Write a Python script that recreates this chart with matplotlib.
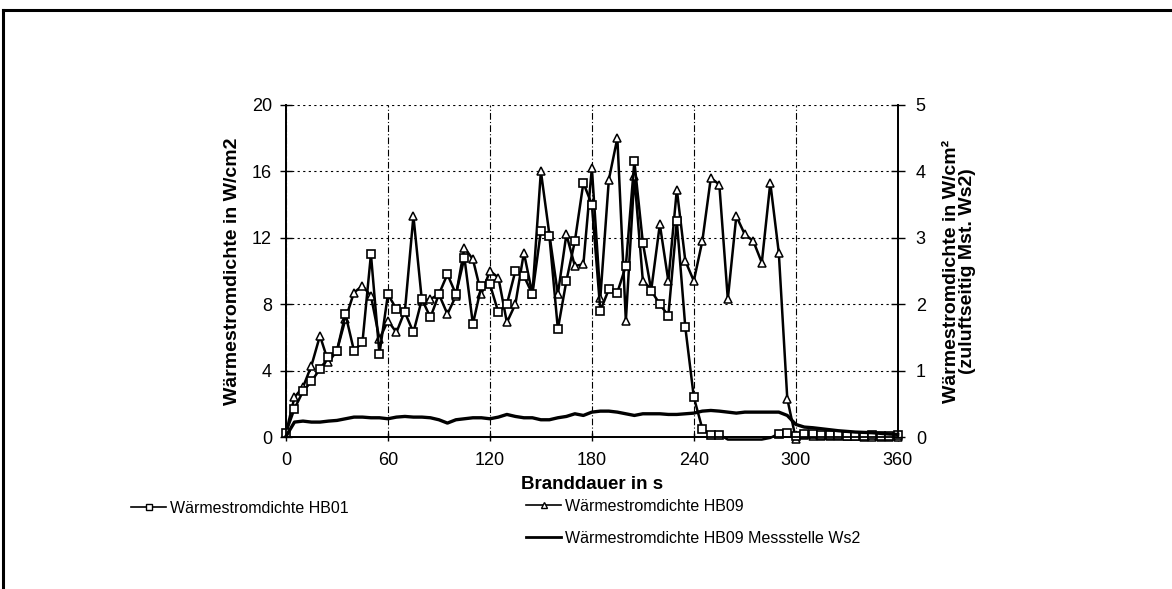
import numpy as np
import matplotlib.pyplot as plt
from matplotlib.lines import Line2D

plt.rcParams['font.family'] = ['Liberation Sans', 'DejaVu Sans']

# Zeitachse: Messwerte alle 5 s
zeit = np.arange(0, 361, 5)

# Wärmestromdichte HB01 in W/cm2 (linke Achse)
hb01 = [0.25, 1.7, 2.75, 3.35, 4.1, 4.8, 5.2, 7.4, 5.2, 5.7,
        11.0, 5.0, 8.6, 7.7, 7.5, 6.3, 8.3, 7.2, 8.6, 9.8,
        8.6, 10.8, 6.8, 9.1, 9.2, 7.5, 8.0, 10.0, 9.7, 8.6,
        12.4, 12.1, 6.5, 9.4, 11.8, 15.3, 14.0, 7.6, 8.9, 8.7,
        10.3, 16.6, 11.7, 8.8, 8.0, 7.3, 13.0, 6.6, 2.4, 0.5,
        0.15, 0.15, -0.15, -0.15, -0.15, -0.15, -0.15, -0.05, 0.2, 0.25,
        0.05, 0.2, 0.2, 0.15, 0.12, 0.1, 0.08, 0.05, 0.05, 0.1,
        0.05, 0.08, 0.1]

# Wärmestromdichte HB09 in W/cm2 (linke Achse)
hb09 = [0.25, 2.4, 3.0, 4.3, 6.1, 4.5, 5.2, 7.1, 8.7, 9.1,
        8.5, 5.9, 7.0, 6.3, 7.6, 13.3, 8.2, 8.3, 8.6, 7.4,
        8.5, 11.4, 10.7, 8.6, 10.0, 9.6, 6.9, 8.0, 11.1, 8.6,
        16.0, 12.2, 8.6, 12.2, 10.3, 10.4, 16.2, 8.4, 15.5, 18.0,
        7.0, 15.7, 9.4, 8.9, 12.8, 9.4, 14.9, 10.6, 9.4, 11.8,
        15.6, 15.2, 8.3, 13.3, 12.2, 11.8, 10.5, 15.3, 11.1, 2.3,
        -0.1, 0.1, 0.08, 0.06, 0.05, 0.05, 0.04, 0.04, 0.03, 0.03,
        0.03, 0.03, 0.03]

# Wärmestromdichte HB09 Messstelle Ws2 in W/cm² (rechte Achse)
ws2 = [0.01, 0.225, 0.24, 0.225, 0.225, 0.24, 0.25, 0.275, 0.3, 0.3,
       0.29, 0.29, 0.275, 0.3, 0.31, 0.3, 0.3, 0.29, 0.26, 0.21,
       0.26, 0.275, 0.29, 0.29, 0.275, 0.3, 0.34, 0.31, 0.29, 0.29,
       0.26, 0.26, 0.29, 0.31, 0.35, 0.325, 0.375, 0.39, 0.39, 0.375,
       0.35, 0.325, 0.35, 0.35, 0.35, 0.34, 0.34, 0.35, 0.36, 0.39,
       0.4, 0.39, 0.375, 0.36, 0.375, 0.375, 0.375, 0.375, 0.375, 0.325,
       0.19, 0.15, 0.14, 0.125, 0.11, 0.095, 0.085, 0.075, 0.07, 0.065,
       0.055, 0.045, 0.04]

fig = plt.figure(figsize=(11.72, 5.89), dpi=100)
ax = fig.add_axes([0.244, 0.258, 0.522, 0.564])
ax2 = ax.twinx()

# Marker nur für Werte >= 0 (unter der Achse im Original verdeckt)
sichtbar = [i for i, v in enumerate(hb01) if v >= 0]

ax.plot(zeit, hb01, color='black', lw=1.8, marker='s', ms=6, mfc='white',
        mec='black', mew=1.2, markevery=sichtbar, clip_on=False, zorder=4)
ax.plot(zeit, hb09, color='black', lw=1.8, marker='^', ms=6, mfc='white',
        mec='black', mew=1.1, clip_on=False, zorder=3)
ax2.plot(zeit, ws2, color='black', lw=2.4, clip_on=False)

ax.set_xlim(0, 360)
ax.set_ylim(0, 20)
ax2.set_ylim(0, 5)
ax.set_xticks(range(0, 361, 60))
ax.set_yticks(range(0, 21, 4))
ax2.set_yticks(range(0, 6))

ax.yaxis.grid(True, color='black', lw=0.8, linestyle=(0, (2, 3)))
ax.xaxis.grid(True, color='black', lw=0.8, linestyle=(0, (6, 2, 1, 2)))
ax.set_axisbelow(True)

for a in (ax, ax2):
    a.spines['top'].set_visible(False)
    a.spines['left'].set_linewidth(1.3)
    a.spines['right'].set_linewidth(1.3)
    a.spines['bottom'].set_linewidth(1.3)
ax.tick_params(axis='both', direction='inout', length=8, width=1, labelsize=13, pad=6)
ax.tick_params(axis='x', length=6, pad=8)
ax2.tick_params(axis='y', direction='inout', length=10, width=1, labelsize=13, pad=8)

ax.set_xlabel('Branddauer in s', fontsize=13.5, fontweight='bold', labelpad=5)
ax.set_ylabel('Wärmestromdichte in W/cm2', fontsize=14, fontweight='bold', labelpad=8)
ax2.set_ylabel('Wärmestromdichte in W/cm²\n(zuluftseitig Mst. Ws2)', fontsize=14,
               fontweight='bold', labelpad=12, linespacing=0.95)

# Legende unter dem Diagramm
h1 = Line2D([], [], color='black', lw=1.2, marker='s', ms=5, mfc='white', mec='black')
h2 = Line2D([], [], color='black', lw=1.2, marker='^', ms=5, mfc='white', mec='black')
h3 = Line2D([], [], color='black', lw=2)
fig.legend(handles=[h1], labels=['Wärmestromdichte HB01'], loc='center left',
           bbox_to_anchor=(0.112, 0.1375), frameon=False, fontsize=11.5,
           handlelength=2.2, handletextpad=0.2, borderpad=0, borderaxespad=0)
fig.legend(handles=[h2, h3], labels=['Wärmestromdichte HB09',
                                     'Wärmestromdichte HB09 Messstelle Ws2'],
           loc='upper left', bbox_to_anchor=(0.449, 0.153), frameon=False,
           fontsize=11.5, handlelength=2.2, handletextpad=0.2, borderpad=0,
           borderaxespad=0, labelspacing=1.05)

# Rahmen oben und links wie im Scan
fig.add_artist(Line2D([0.0026, 1.0], [0.983, 0.983], transform=fig.transFigure,
                      color='black', lw=2.2))
fig.add_artist(Line2D([0.0026, 0.0026], [0.0, 0.983], transform=fig.transFigure,
                      color='black', lw=2.2))

fig.savefig('out.png', dpi=100)
